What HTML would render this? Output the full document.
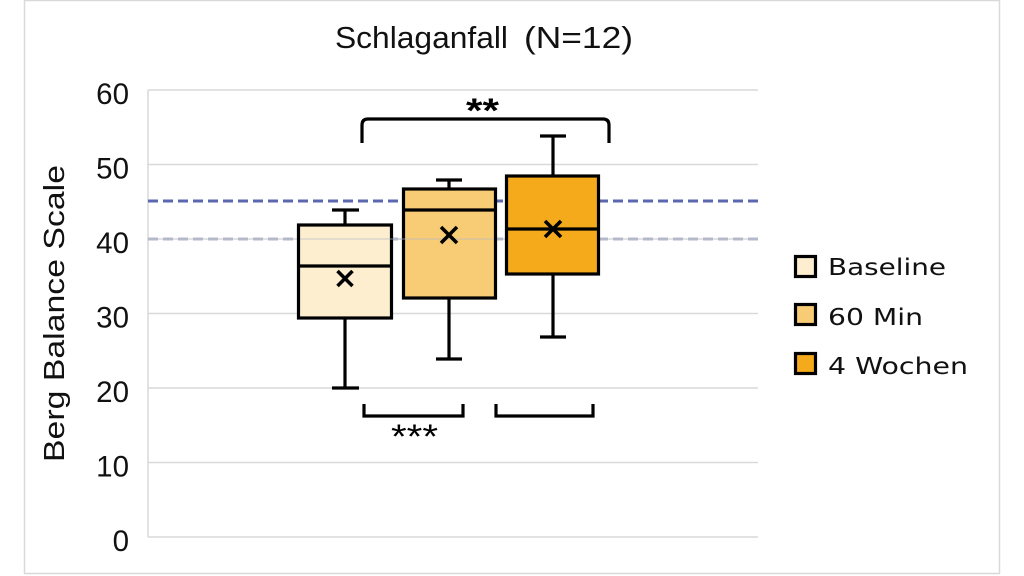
<!DOCTYPE html>
<html><head><meta charset="utf-8"><style>
html,body{margin:0;padding:0;background:#fff;}
svg{display:block;}
</style></head><body>
<svg width="1024" height="576" viewBox="0 0 1024 576" xmlns="http://www.w3.org/2000/svg">
<rect x="0" y="0" width="1024" height="576" fill="#fff"/>
<rect x="24.5" y="0.5" width="975" height="573" fill="#fff" stroke="#d9d9d9" stroke-width="1.5"/>
<text x="335" y="48" font-family="Liberation Sans, sans-serif" font-size="31" fill="#111" textLength="173" lengthAdjust="spacingAndGlyphs">Schlaganfall</text>
<text x="524" y="48" font-family="Liberation Sans, sans-serif" font-size="31" fill="#111" textLength="109" lengthAdjust="spacingAndGlyphs">(N=12)</text>
<g stroke="#d9d9d9" stroke-width="1.5">
<line x1="148" y1="90" x2="758" y2="90"/>
<line x1="148" y1="164.5" x2="758" y2="164.5"/>
<line x1="148" y1="239" x2="758" y2="239"/>
<line x1="148" y1="313.5" x2="758" y2="313.5"/>
<line x1="148" y1="388" x2="758" y2="388"/>
<line x1="148" y1="462.5" x2="758" y2="462.5"/>
<line x1="148" y1="537" x2="758" y2="537"/>
<line x1="148" y1="90" x2="148" y2="537"/>
</g>
<g font-family="Liberation Sans, sans-serif" font-size="29.5" fill="#111" text-anchor="end">
<text x="129" y="104">60</text>
<text x="129" y="178.5">50</text>
<text x="129" y="253">40</text>
<text x="129" y="327.5">30</text>
<text x="129" y="402">20</text>
<text x="129" y="476.5">10</text>
<text x="129" y="551">0</text>
</g>
<text transform="translate(64,313.5) rotate(-90)" text-anchor="middle" font-family="Liberation Sans, sans-serif" font-size="29" fill="#111" textLength="297" lengthAdjust="spacingAndGlyphs">Berg Balance Scale</text>
<line x1="148" y1="201" x2="758" y2="201" stroke="#5b67ae" stroke-width="3" stroke-dasharray="10,5"/>
<line x1="148" y1="239" x2="758" y2="239" stroke="#b4b9cc" stroke-width="3" stroke-dasharray="10,5"/>
<g stroke="#000" stroke-width="3.2" fill="none">
<line x1="345" y1="210" x2="345" y2="224"/>
<line x1="332" y1="210" x2="359" y2="210"/>
<line x1="345" y1="319" x2="345" y2="388"/>
<line x1="332" y1="388" x2="359" y2="388"/>
<rect x="298.5" y="225" width="93" height="93" fill="#fdeecf"/>
<line x1="298.5" y1="266" x2="391.5" y2="266"/>
<line x1="449" y1="180" x2="449" y2="188"/>
<line x1="436" y1="180" x2="462" y2="180"/>
<line x1="449" y1="299" x2="449" y2="359"/>
<line x1="436" y1="359" x2="462" y2="359"/>
<rect x="403.5" y="189" width="92" height="109" fill="#f8cc75"/>
<line x1="403.5" y1="210" x2="495.5" y2="210"/>
<line x1="553" y1="136" x2="553" y2="175"/>
<line x1="540" y1="136" x2="566" y2="136"/>
<line x1="553" y1="275" x2="553" y2="337"/>
<line x1="540" y1="337" x2="566" y2="337"/>
<rect x="506.5" y="176" width="92" height="98" fill="#f5aa1c"/>
<line x1="506.5" y1="229" x2="598.5" y2="229"/>
</g>
<line x1="300" y1="239" x2="494" y2="239" stroke="#b4b9cc" stroke-width="2" opacity="0.35"/>
<g stroke="#000" stroke-width="3.5" stroke-linecap="butt">
<line x1="337.5" y1="271" x2="352.5" y2="286"/><line x1="352.5" y1="271" x2="337.5" y2="286"/>
<line x1="441" y1="227" x2="457" y2="243"/><line x1="457" y1="227" x2="441" y2="243"/>
<line x1="545" y1="221" x2="561" y2="237"/><line x1="561" y1="221" x2="545" y2="237"/>
</g>
<path d="M362,143 L362,125 Q362,119 368,119 L603,119 Q609,119 609,125 L609,143" stroke="#000" stroke-width="3.2" fill="none"/>
<text x="466" y="122" font-family="Liberation Sans, sans-serif" font-weight="bold" font-size="34" fill="#000" textLength="33" lengthAdjust="spacingAndGlyphs">**</text>
<path d="M364,404 L364,416 L463,416 L463,404" stroke="#000" stroke-width="3.2" fill="none"/>
<path d="M496,404 L496,416 L593,416 L593,404" stroke="#000" stroke-width="3.2" fill="none"/>
<text x="391" y="448" font-family="Liberation Sans, sans-serif" font-size="34" fill="#000" textLength="47" lengthAdjust="spacingAndGlyphs">***</text>
<g stroke="#000" stroke-width="3.2">
<rect x="795.5" y="256.5" width="20" height="20" fill="#fdeecf"/>
<rect x="795.5" y="304.5" width="20" height="20" fill="#f8cc75"/>
<rect x="795.5" y="353.5" width="20" height="20" fill="#f5aa1c"/>
</g>
<g font-family="DejaVu Sans, sans-serif" font-size="23.5" fill="#111">
<text x="828" y="275" textLength="118" lengthAdjust="spacingAndGlyphs">Baseline</text>
<text x="828" y="325" textLength="95" lengthAdjust="spacingAndGlyphs">60 Min</text>
<text x="828" y="374" textLength="140" lengthAdjust="spacingAndGlyphs">4 Wochen</text>
</g>
</svg>
</body></html>
